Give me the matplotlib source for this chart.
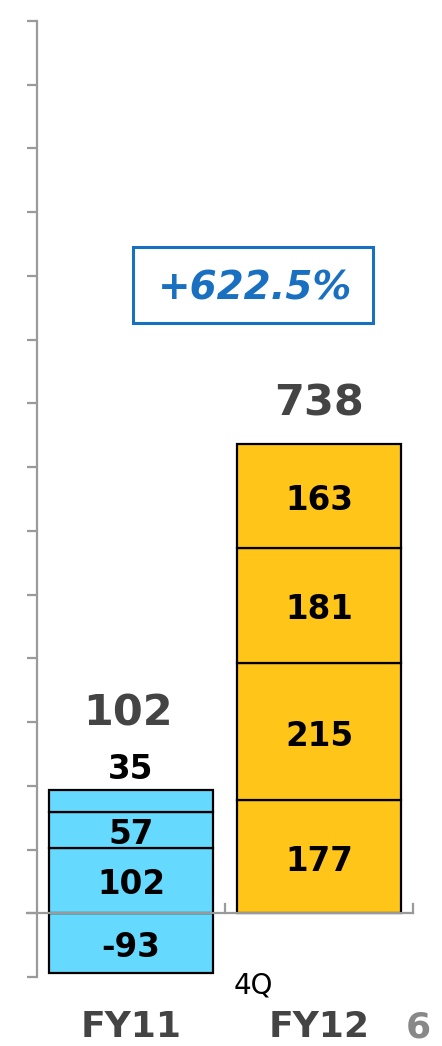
import matplotlib
matplotlib.use("Agg")
import matplotlib.pyplot as plt
from matplotlib.patches import Rectangle

categories = ["FY11", "FY12"]
fy11_segments = [-93, 102, 57, 35]
fy12_segments = [177, 215, 181, 163]
totals = [102, 738]
growth_label = "+622.5%"
quarter_label = "4Q"
page_number = "6"
y_ticks = list(range(-100, 1401, 100))

colors = ["#66d9ff", "#ffc619"]
series = [fy11_segments, fy12_segments]

W, H = 442, 1046
fig = plt.figure(figsize=(W / 100, H / 100), dpi=100)
ax_left, ax_right = 37 / W, 413 / W
ax_top, ax_bottom = 21 / H, 977 / H
ax = fig.add_axes([ax_left, 1 - ax_bottom, ax_right - ax_left, ax_bottom - ax_top])
ax.set_xlim(-0.5, 1.5)
ax.set_ylim(-100, 1400)

gray = "#9a9a9a"
bar_w = 164 / 188
seg_fs = 23.5

for i, segs in enumerate(series):
    pos_base = 0
    neg_base = 0
    for j, v in enumerate(segs):
        if v < 0:
            bottom = neg_base + v
            neg_base = bottom
        else:
            bottom = pos_base
            pos_base += v
        ax.bar(i, abs(v), bottom=bottom, width=bar_w, color=colors[i],
               edgecolor="black", linewidth=1.6, zorder=2)
        if i == 0 and j == len(segs) - 1:
            ax.annotate(str(v), (i, bottom + abs(v)), xytext=(0, 2.5), textcoords="offset points",
                        ha="center", va="bottom", fontsize=seg_fs, fontweight="bold", color="black")
        else:
            ax.annotate(str(v), (i, bottom + abs(v) / 2), xytext=(0, -3), textcoords="offset points",
                        ha="center", va="center", fontsize=seg_fs, fontweight="bold",
                        color="black", zorder=4)
    extra = 40 if i == 0 else 14
    ax.annotate(str(totals[i]), (i, pos_base), xytext=(-2 if i == 0 else 0, extra),
                textcoords="offset points", ha="center", va="bottom", fontsize=31,
                fontweight="bold", color="#444444")

# axes styling
for s in ["top", "right", "bottom"]:
    ax.spines[s].set_visible(False)
ax.spines["left"].set_color(gray)
ax.spines["left"].set_linewidth(1.6)
ax.set_yticks(y_ticks)
ax.set_yticklabels([])
ax.tick_params(axis="y", direction="out", length=7.2, width=1.6, color=gray)
ax.set_xticks([])

# zero line with category boundary ticks
ax.axhline(0, xmin=-10 / 376, xmax=1, color=gray, linewidth=1.6, clip_on=False, zorder=3)
for xb in [0.5, 1.5]:
    ax.plot([xb, xb], [0, 15], color=gray, linewidth=1.6, clip_on=False, zorder=3)

# category labels
for i, c in enumerate(categories):
    ax.text(i, -179, c, ha="center", va="center", fontsize=26, fontweight="bold",
            color="#444444", clip_on=False)
ax.text(0.649, -113, quarter_label, ha="center", va="center", fontsize=20,
        color="black", clip_on=False)
fig.text(418 / W, 1 - 1028 / H, page_number, ha="center", va="center", fontsize=26,
         fontweight="bold", color="#888888")

# growth box
bx0, bx1, by0, by1 = 133, 373, 247, 323
fig.patches.append(Rectangle((bx0 / W, 1 - by1 / H), (bx1 - bx0) / W, (by1 - by0) / H,
                             transform=fig.transFigure, fill=False, edgecolor="#1a70c0",
                             linewidth=2.2))
fig.text(255 / W, 1 - 288 / H, growth_label, ha="center", va="center", fontsize=28,
         fontweight="bold", fontstyle="italic", color="#1a70c0")

fig.savefig("out.png", dpi=100)
